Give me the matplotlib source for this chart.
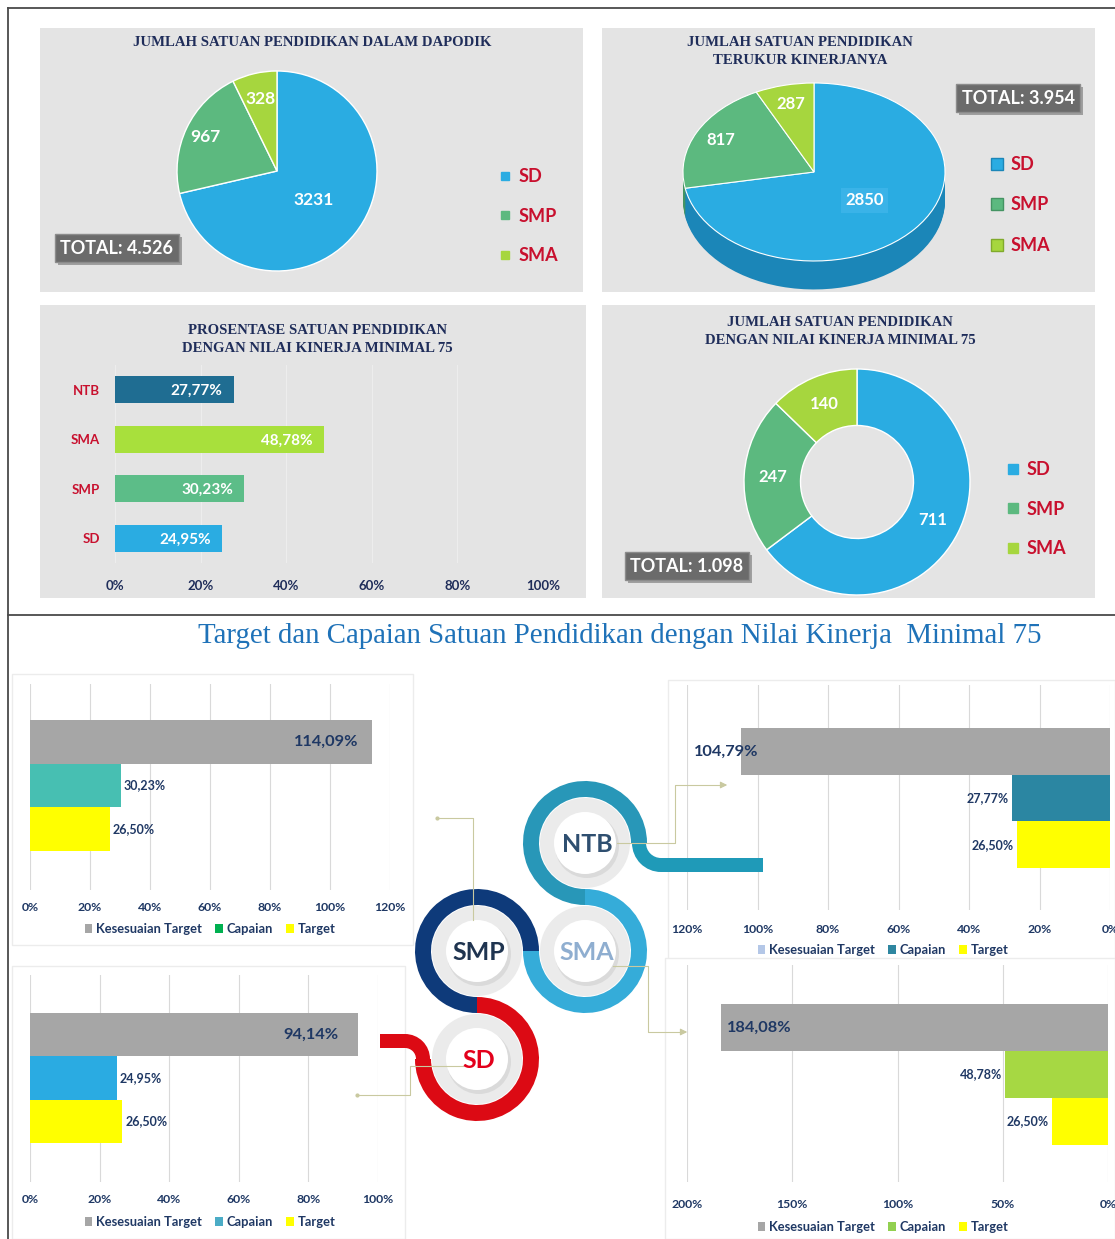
import numpy as np
import matplotlib
matplotlib.use("Agg")
import matplotlib.pyplot as plt
import matplotlib.patheffects as pe
from matplotlib.patches import Rectangle, Wedge, Circle, Patch
from matplotlib.lines import Line2D

W, H = 1115, 1239
plt.rcParams['font.family'] = ['Lato', 'DejaVu Sans']

# ---- data -------------------------------------------------------------
levels = ["SD", "SMP", "SMA"]
dapodik_counts = [3231, 967, 328]
measured_counts = [2850, 817, 287]
min75_counts = [711, 247, 140]

pct_categories = ["SD", "SMP", "SMA", "NTB"]
pct_values = [24.95, 30.23, 48.78, 27.77]

series_names = ["Kesesuaian Target", "Capaian", "Target"]
smp_values = [114.09, 30.23, 26.50]
sd_values = [94.14, 24.95, 26.50]
ntb_values = [104.79, 27.77, 26.50]
sma_values = [184.08, 48.78, 26.50]

# ---- colours ----------------------------------------------------------
PANEL = '#e4e4e4'
NAVY = '#1f2d5a'
TNAVY = '#1f3864'
RED = '#c8102e'
LEVEL_COLORS = ['#2aace2', '#5cb97f', '#a6d63e']
LEVEL_SIDE = ['#1b86b8', '#449463', '#80aa2c']
PCT_COLORS = ['#2aace2', '#5cbd88', '#a8e03c', '#1f6d92']
GREY = '#a6a6a6'
YELLOW = '#ffff00'


def fmt_total(v):
    return "TOTAL: " + f"{v:,}".replace(",", ".")


def fmt_pct(v):
    return f"{v:.2f}%".replace(".", ",")


fig = plt.figure(figsize=(W / 100, H / 100), dpi=100)


def px_axes(x0, y0, x1, y1, z=1):
    ax = fig.add_axes([x0 / W, 1 - y1 / H, (x1 - x0) / W, (y1 - y0) / H], zorder=z)
    ax.set_facecolor('none')
    return ax


bg = px_axes(0, 0, W, H, z=0)
bg.set_xlim(0, W)
bg.set_ylim(H, 0)
bg.axis('off')

for x0, y0, x1, y1 in [(40, 28, 583, 292), (602, 28, 1095, 292),
                       (40, 305, 586, 598), (602, 305, 1095, 598)]:
    bg.add_patch(Rectangle((x0, y0), x1 - x0, y1 - y0, fc=PANEL, ec='none'))

for x0, y0, x1, y1 in [(12, 674, 413, 945), (12, 966, 405, 1239),
                       (668, 680, 1115, 962), (665, 958, 1115, 1239)]:
    bg.add_patch(Rectangle((x0, y0), x1 - x0, y1 - y0, fc='white', ec='#ececec', lw=1))

bg.plot([8, W], [8, 8], color='#4a4a4a', lw=1.3)
bg.plot([8, 8], [8, H], color='#4a4a4a', lw=1.3)
bg.plot([8, W], [615, 615], color='#4a4a4a', lw=1.3)

title_kw = dict(ha='center', va='center', color=NAVY, fontsize=10.6,
                fontweight='bold', family='Liberation Serif', linespacing=1.5)
bg.text(312, 43, "JUMLAH SATUAN PENDIDIKAN DALAM DAPODIK", **title_kw)
bg.text(800, 52, "JUMLAH SATUAN PENDIDIKAN\nTERUKUR KINERJANYA", **title_kw)
bg.text(317, 339, "PROSENTASE SATUAN PENDIDIKAN\nDENGAN NILAI KINERJA MINIMAL 75", **title_kw)
bg.text(840, 331, "JUMLAH SATUAN PENDIDIKAN\nDENGAN NILAI KINERJA MINIMAL 75", **title_kw)

bg.text(620, 636, "Target dan Capaian Satuan Pendidikan dengan Nilai Kinerja  Minimal 75",
        ha='center', va='center', color='#1f72b8', fontsize=20.8,
        family='Liberation Serif')


def total_box(x, y, value):
    t = bg.text(x, y, fmt_total(value), ha='center', va='center', color='white',
                fontsize=13, fontweight='bold',
                bbox=dict(boxstyle='square,pad=0.3', fc='#6b6b6b', ec='#8c8c8c', lw=1))
    t.get_bbox_patch().set_path_effects([pe.SimplePatchShadow(offset=(2, -2), alpha=0.35),
                                         pe.Normal()])


def wedge_label(ax, w, r, text, **kw):
    ang = np.deg2rad((w.theta1 + w.theta2) / 2)
    cx, cy = w.center
    return ax.text(cx + r * w.r * np.cos(ang), cy + r * w.r * np.sin(ang), text,
                   ha='center', va='center', color='white', fontweight='bold', **kw)


def level_legend(ax, x, y, ms, fs, spacing, edges=None):
    edges = edges or LEVEL_COLORS
    handles = [Line2D([], [], ls='', marker='s', ms=ms, mfc=c, mec=e, mew=1)
               for c, e in zip(LEVEL_COLORS, edges)]
    leg = ax.legend(handles, levels, loc='center left',
                    bbox_to_anchor=(x / W, 1 - y / H), bbox_transform=fig.transFigure,
                    frameon=False, handlelength=0.6, handletextpad=0.4,
                    labelspacing=spacing, borderpad=0, borderaxespad=0,
                    prop=dict(size=fs, weight='bold'))
    for t in leg.get_texts():
        t.set_color(RED)


# ---- panel 1: pie -----------------------------------------------------
ax1 = px_axes(177, 71, 377, 271)
wedges, _ = ax1.pie(dapodik_counts, colors=LEVEL_COLORS, startangle=90,
                    counterclock=False, wedgeprops=dict(edgecolor='white', linewidth=1))
ax1.set_xlim(-1, 1)
ax1.set_ylim(-1, 1)
for w, v, r in zip(wedges, dapodik_counts, [0.47, 0.79, 0.74]):
    wedge_label(ax1, w, r, str(v), fontsize=12.5)
level_legend(ax1, 500, 216, 6, 13, 1.25)
total_box(117, 248, sum(dapodik_counts))

# ---- panel 2: 3d pie --------------------------------------------------
ax2 = px_axes(683, 83, 945, 290)
depth = 0.32
for d in np.linspace(depth, 0.01, 24):
    ax2.pie(measured_counts, colors=LEVEL_SIDE, startangle=90, counterclock=False,
            center=(0, -d), wedgeprops=dict(linewidth=0))
wedges, _ = ax2.pie(measured_counts, colors=LEVEL_COLORS, startangle=90,
                    counterclock=False, wedgeprops=dict(edgecolor='white', linewidth=0.8))
ax2.set_aspect('auto')
ax2.set_xlim(-1, 1)
ax2.set_ylim(-1 - depth - 0.006, 1)
t = wedge_label(ax2, wedges[0], 0.5, str(measured_counts[0]), fontsize=12)
t.set_bbox(dict(boxstyle='square,pad=0.25', fc='#3ab3e8', ec='none'))
wedge_label(ax2, wedges[1], 0.8, str(measured_counts[1]), fontsize=12)
wedge_label(ax2, wedges[2], 0.78, str(measured_counts[2]), fontsize=12)
level_legend(ax2, 992, 205, 9, 13, 1.3, edges=LEVEL_SIDE)
total_box(1018, 98, sum(measured_counts))

# ---- panel 3: percentage bars ----------------------------------------
ax3 = px_axes(115, 365, 543, 563)
ypos = np.arange(len(pct_categories))
ax3.barh(ypos, pct_values, height=0.55, color=PCT_COLORS, zorder=2)
ax3.set_xlim(0, 100)
ax3.set_ylim(-0.5, 3.5)
ax3.set_xticks(range(0, 101, 20))
ax3.set_xticklabels([f"{t}%" for t in range(0, 101, 20)])
ax3.set_yticks(ypos)
ax3.set_yticklabels(pct_categories)
ax3.tick_params(axis='x', length=0, pad=12, labelsize=9.5, labelcolor=NAVY)
ax3.tick_params(axis='y', length=0, pad=11, labelsize=9.5, labelcolor=RED)
for lab in ax3.get_xticklabels() + ax3.get_yticklabels():
    lab.set_fontweight('bold')
for s in ax3.spines.values():
    s.set_visible(False)
ax3.grid(axis='x', color='#ededed', lw=0.8, zorder=0)
for y, v in zip(ypos, pct_values):
    ax3.annotate(fmt_pct(v), (v, y), xytext=(-8, -1), textcoords='offset points',
                 ha='right', va='center', color='white', fontsize=11, fontweight='bold')

# ---- panel 4: donut ---------------------------------------------------
ax4 = px_axes(744, 369, 970, 595)
wedges, _ = ax4.pie(min75_counts, colors=LEVEL_COLORS, startangle=90, counterclock=False,
                    wedgeprops=dict(width=0.5, edgecolor='white', linewidth=1))
ax4.set_xlim(-1, 1)
ax4.set_ylim(-1, 1)
for w, v in zip(wedges, min75_counts):
    wedge_label(ax4, w, 0.75, str(v), fontsize=12)
level_legend(ax4, 1008, 509, 7.5, 13, 1.25)
total_box(687, 566, sum(min75_counts))


# ---- bottom: target vs achievement charts ----------------------------
def target_chart(values, bar_colors, legend_colors, xpx, xmax, step, ypx,
                 bar_top, unit, tick_y, legend_xy, invert, big_dx, big_ha):
    x0, x1 = xpx
    y0, y1 = ypx
    ax = px_axes(x0, y0, x1, y1)
    pos = np.arange(len(values))[::-1]
    ax.barh(pos, values, height=1.0, color=bar_colors, zorder=2)
    ax.set_xlim((xmax, 0) if invert else (0, xmax))
    ax.set_ylim(2.5 - (y1 - bar_top) / unit, 2.5 + (bar_top - y0) / unit)
    ticks = list(range(0, xmax + 1, step))
    ax.set_xticks(ticks)
    ax.set_xticklabels([f"{t}%" for t in ticks])
    ax.set_yticks([])
    fs = 8.8
    pad = (tick_y - y1 - 0.5 * fs * 100 / 72) * 0.72
    ax.tick_params(axis='x', length=0, pad=pad, labelsize=fs, labelcolor=TNAVY)
    for lab in ax.get_xticklabels():
        lab.set_fontweight('bold')
    for s in ax.spines.values():
        s.set_visible(False)
    ax.grid(axis='x', color='#d9d9d9', lw=0.8, zorder=0)
    # value labels
    ax.annotate(fmt_pct(values[0]), (values[0], pos[0]), xytext=(big_dx * 0.72, 0),
                textcoords='offset points', ha=big_ha, va='center', color=TNAVY,
                fontsize=11.8, fontweight='bold', zorder=3)
    for v, p in zip(values[1:], pos[1:]):
        dx = -3 if invert else 3
        ax.annotate(fmt_pct(v), (v, p), xytext=(dx * 0.72, 0), textcoords='offset points',
                    ha='right' if invert else 'left', va='center', color=TNAVY,
                    fontsize=9, fontweight='bold', zorder=3)
    handles = [Patch(fc=c, ec='none') for c in legend_colors]
    leg = ax.legend(handles, series_names, loc='center',
                    bbox_to_anchor=(legend_xy[0] / W, 1 - legend_xy[1] / H),
                    bbox_transform=fig.transFigure, ncol=3, frameon=False,
                    handlelength=0.6, handleheight=0.6, handletextpad=0.3,
                    columnspacing=1.0, borderpad=0, prop=dict(size=9.3, weight='bold'))
    for t in leg.get_texts():
        t.set_color(TNAVY)
    return ax


target_chart(smp_values, [GREY, '#47bfb2', YELLOW], [GREY, '#00b050', YELLOW],
             (30, 390), 120, 20, (684, 890), 720, 43.5, 908, (210, 929), False, -14, 'right')
target_chart(sd_values, [GREY, '#2aabe2', YELLOW], [GREY, '#4bacc6', YELLOW],
             (30, 378), 100, 20, (975, 1182), 1013, 43.3, 1200, (210, 1222), False, -19, 'right')
target_chart(ntb_values, [GREY, '#2b86a2', YELLOW], ['#b4c7e7', '#2e86a0', YELLOW],
             (687, 1110), 120, 20, (685, 910), 728, 46.7, 930, (883, 950), True, 18, 'right')
target_chart(sma_values, [GREY, '#a6d843', YELLOW], [GREY, '#92d050', YELLOW],
             (687, 1108), 200, 50, (965, 1182), 1004, 47, 1205, (883, 1227), True, 6, 'left')

# ---- centre ribbon ----------------------------------------------------
fg = px_axes(0, 0, W, H, z=5)
fg.set_xlim(0, W)
fg.set_ylim(H, 0)
fg.axis('off')

R, BAND = 54, 16
nodes = {
    "NTB": ((585, 843), '#2897b8', '#2f4f70', (0, 270)),
    "SMA": ((585, 843 + 2 * R), '#35acd9', '#8faed0', (-180, 90)),
    "SMP": ((585 - 2 * R, 843 + 2 * R), '#0e3a7a', '#1f3450', (0, 270)),
    "SD": ((585 - 2 * R, 843 + 4 * R), '#dc0a14', '#e3001b', (-180, 90)),
}


def screen_wedge(center, r, a0, a1, width, color):
    # y axis points down, so screen angles are mirrored
    fg.add_patch(Wedge(center, r + width / 2, -a1, -a0, width=width, fc=color, ec='none'))


for name, (c, ring, txt, (a0, a1)) in nodes.items():
    fg.add_patch(Circle(c, R - BAND / 2 - 1, fc='#ebebeb', ec='none'))
    fg.add_patch(Circle((c[0] + 2, c[1] + 3), 32, fc='#cfcfcf', ec='none', alpha=0.6))
    fg.add_patch(Circle(c, 31, fc='white', ec='none'))
    screen_wedge(c, R, a0, a1, BAND, ring)
    fg.text(c[0] + 2, c[1] + 1, name, ha='center', va='center', color=txt,
            fontsize=18, fontweight='bold')

# NTB tail to the right
rt = 22
cx, cy = nodes["NTB"][0]
tail_c = (cx + R + rt, cy)
screen_wedge(tail_c, rt, 180, 270, 14, '#1f9ab8')
fg.add_patch(Rectangle((tail_c[0], cy + rt - 7), 763 - tail_c[0], 14, fc='#1f9ab8', ec='none'))

# SD tail to the left
rt = 18
cx, cy = nodes["SD"][0]
tail_c = (cx - R - rt, cy)
screen_wedge(tail_c, rt, 0, 90, 14, '#dc0a14')
fg.add_patch(Rectangle((380, cy - rt - 7), tail_c[0] - 380, 14, fc='#dc0a14', ec='none'))

# connector lines
LINE = '#c9c9a0'
fg.plot([617, 675, 675, 724], [843, 843, 785, 785], color=LINE, lw=0.8)
fg.annotate('', (730, 785), (720, 785), arrowprops=dict(arrowstyle='-|>', color=LINE, lw=0.8))
fg.plot([473, 473, 437], [920, 818, 818], color=LINE, lw=0.8)
fg.plot([437], [818], marker='o', ms=2, color=LINE)
fg.plot([613, 648, 648, 684], [966, 966, 1032, 1032], color=LINE, lw=0.8)
fg.annotate('', (690, 1032), (680, 1032), arrowprops=dict(arrowstyle='-|>', color=LINE, lw=0.8))
fg.plot([463, 410, 410, 357], [1066, 1066, 1095, 1095], color=LINE, lw=0.8)
fg.plot([357], [1095], marker='o', ms=2, color=LINE)

fig.savefig("out.png", dpi=100, facecolor='white')
